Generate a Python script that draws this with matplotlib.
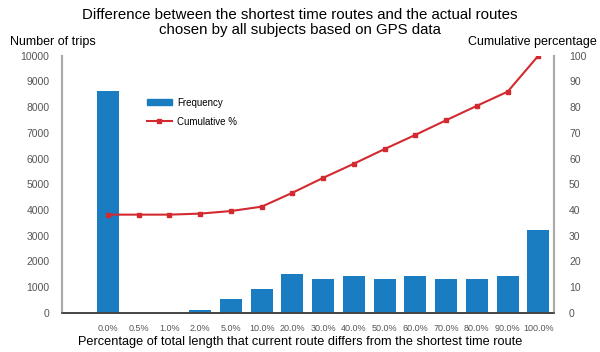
import numpy as np
import matplotlib.pyplot as plt
from matplotlib.lines import Line2D
from matplotlib.patches import Patch

plt.rcParams['font.family'] = ['Liberation Sans', 'DejaVu Sans']

# data
categories = ['0.0%', '0.5%', '1.0%', '2.0%', '5.0%', '10.0%', '20.0%', '30.0%',
              '40.0%', '50.0%', '60.0%', '70.0%', '80.0%', '90.0%', '100.0%']
frequency = [8630, 0, 0, 120, 530, 930, 1520, 1315, 1420, 1315, 1420, 1315, 1315, 1420, 3220]
cumulative = [38.2, 38.2, 38.2, 38.6, 39.6, 41.3, 46.7, 52.5, 58.0, 63.7, 69.2, 74.9, 80.5, 86.0, 100.0]

bar_color = '#1a7dc2'
line_color = '#d22a30'
tick_color = '#555555'

fig = plt.figure(figsize=(6, 3.52), dpi=100)
ax = fig.add_axes([0.103, 0.111, 0.82, 0.731])
ax2 = ax.twinx()

x = np.arange(len(categories))
ax.bar(x, frequency, width=0.72, color=bar_color, zorder=2)
ax2.plot(x, cumulative, color=line_color, lw=1.5, marker='s', ms=3, zorder=3)

ax.set_xlim(-1.5, len(categories) - 0.5)
ax.set_ylim(0, 10000)
ax.set_yticks(np.arange(0, 10001, 1000))
ax2.set_ylim(0, 100)
ax2.set_yticks(np.arange(0, 101, 10))
ax.set_xticks(x)
ax.set_xticklabels(categories)

for a in (ax, ax2):
    a.tick_params(length=0, labelsize=7.5, colors=tick_color)
    a.spines['top'].set_visible(False)
    a.spines['left'].set_color('#aaaaaa')
    a.spines['right'].set_color('#aaaaaa')
    a.spines['bottom'].set_color('#444444')
    a.spines['left'].set_linewidth(1.5)
    a.spines['right'].set_linewidth(1.5)
    a.spines['bottom'].set_linewidth(1.2)
ax.tick_params(axis='y', pad=9)
ax2.tick_params(axis='y', pad=11)
ax.tick_params(axis='x', pad=8, labelsize=6.5)

fig.text(0.5, 0.978, 'Difference between the shortest time routes and the actual routes\n'
         'chosen by all subjects based on GPS data',
         ha='center', va='top', fontsize=10.8, linespacing=1.1)
fig.text(0.017, 0.88, 'Number of trips', ha='left', va='center', fontsize=9)
fig.text(0.995, 0.88, 'Cumulative percentage', ha='right', va='center', fontsize=9)
fig.text(0.5, 0.028, 'Percentage of total length that current route differs from the shortest time route',
         ha='center', va='center', fontsize=9.2)

handles = [Patch(color=bar_color, label='Frequency'),
           Line2D([], [], color=line_color, lw=1.5, marker='s', ms=3, label='Cumulative %')]
ax.legend(handles=handles, loc='upper left', bbox_to_anchor=(0.155, 0.87), frameon=False,
          fontsize=7, handlelength=2.6, handleheight=0.6, labelspacing=0.9, handletextpad=0.5)

fig.savefig('out.png', dpi=100)
